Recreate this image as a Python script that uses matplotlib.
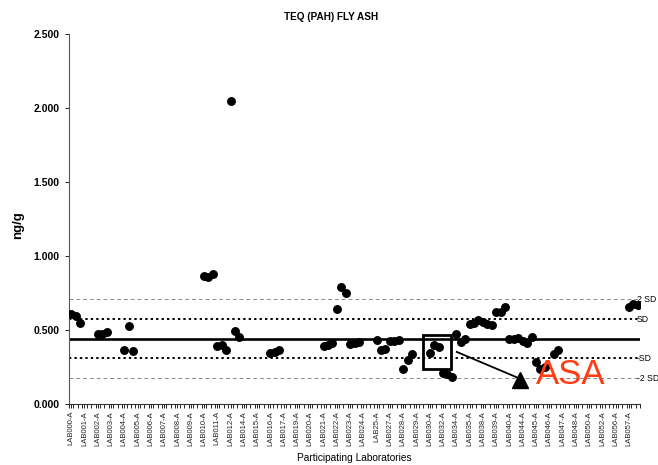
import numpy as np
import matplotlib
matplotlib.use('Agg')
import matplotlib.pyplot as plt
from matplotlib.patches import Rectangle
from matplotlib.transforms import blended_transform_factory

plt.rcParams['font.family'] = ['Liberation Sans', 'DejaVu Sans']

labs = ['LAB000-A', 'LAB001-A', 'LAB002-A', 'LAB003-A', 'LAB004-A', 'LAB005-A',
        'LAB006-A', 'LAB007-A', 'LAB008-A', 'LAB009-A', 'LAB010-A', 'LAB011-A',
        'LAB012-A', 'LAB014-A', 'LAB015-A', 'LAB016-A', 'LAB017-A', 'LAB019-A',
        'LAB020-A', 'LAB021-A', 'LAB022-A', 'LAB023-A', 'LAB024-A', 'LAB25-A',
        'LAB027-A', 'LAB028-A', 'LAB029-A', 'LAB030-A', 'LAB032-A', 'LAB034-A',
        'LAB035-A', 'LAB038-A', 'LAB039-A', 'LAB040-A', 'LAB044-A', 'LAB045-A',
        'LAB046-A', 'LAB047-A', 'LAB048-A', 'LAB050-A', 'LAB052-A', 'LAB056-A',
        'LAB057-A']

n = np.nan
# three replicate results per lab (ng/g), nan = no result
rep1 = [0.605, n, 0.470, n, 0.368, n, n, n, n, n, 0.862, 0.392, 2.047, n, n, 0.345,
        n, n, n, 0.394, 0.642, 0.408, n, 0.433, 0.428, 0.237, n, 0.343, 0.212,
        0.471, 0.539, 0.554, 0.624, 0.437, 0.426, 0.286, n, n, n, n, n, n, 0.658]
rep2 = [0.595, n, 0.476, n, 0.530, n, n, n, n, n, 0.860, 0.400, 0.492, n, n, 0.352,
        n, n, n, 0.399, 0.789, 0.414, n, 0.363, 0.428, 0.298, n, 0.397, 0.203,
        0.421, 0.550, 0.541, 0.620, 0.441, 0.410, 0.239, 0.338, n, n, n, n, n, 0.674]
rep3 = [0.550, n, 0.485, n, 0.355, n, n, n, n, n, 0.878, 0.362, 0.456, n, n, 0.365,
        n, n, n, 0.414, 0.748, 0.419, n, 0.372, 0.433, 0.340, n, 0.383, 0.185,
        0.441, 0.568, 0.534, 0.654, 0.444, 0.455, 0.252, 0.365, n, n, n, n, n, 0.672]

mean_val = 0.441
sd_val = 0.133

fig = plt.figure(figsize=(6.58, 4.65), dpi=100)
ax = fig.add_axes([69/658, 1-404/465, 571/658, 370/465])

xs, ys = [], []
for i in range(len(labs)):
    for j, r in enumerate([rep1, rep2, rep3]):
        xs.append(3*i + j)
        ys.append(r[i])
ax.plot(xs, ys, 'o', color='black', markersize=5.4, zorder=3)

ncat = 3*len(labs)
ax.set_xlim(-0.5, ncat - 0.5)
ax.set_ylim(0, 2.5)

ax.axhline(mean_val, color='black', lw=1.9, zorder=2)
ax.axhline(mean_val + sd_val, color='black', lw=1.4, ls=(0, (1.2, 1.6)), zorder=2)
ax.axhline(mean_val - sd_val, color='black', lw=1.4, ls=(0, (1.2, 1.6)), zorder=2)
ax.axhline(mean_val + 2*sd_val, color='#8c8c8c', lw=0.7, ls=(0, (4, 3)), zorder=2)
ax.axhline(mean_val - 2*sd_val, color='#8c8c8c', lw=0.7, ls=(0, (4, 3)), zorder=2)

tr = blended_transform_factory(ax.transAxes, ax.transData)
for v, t in [(mean_val + 2*sd_val, '2 SD'), (mean_val + sd_val, 'SD'),
             (mean_val - sd_val, '-SD'), (mean_val - 2*sd_val, '-2 SD')]:
    ax.text(0.994, v, t, transform=tr, ha='left', va='center', fontsize=6.2,
            clip_on=False)

ax.set_xticks([3*i for i in range(len(labs))])
ax.set_xticklabels(labs, rotation=90, fontsize=5.5, color='#222222')
ax.set_xticks(np.arange(-0.5, ncat, 1), minor=True)
ax.tick_params(axis='x', which='major', length=3, width=0.6, pad=2)
ax.tick_params(axis='x', which='minor', length=3, width=0.6)

ax.set_yticks([0, 0.5, 1.0, 1.5, 2.0, 2.5])
ax.set_yticklabels(['0.000', '0.500', '1.000', '1.500', '2.000', '2.500'],
                   fontsize=7.5, fontweight='bold')
ax.tick_params(axis='y', length=3, width=0.6, pad=4)

ax.spines['top'].set_visible(False)
ax.spines['right'].set_visible(False)
ax.spines['left'].set_color('#555555')
ax.spines['bottom'].set_color('#333333')

fig.text(331/658, 1-17/465, 'TEQ (PAH) FLY ASH', ha='center', va='center',
         fontsize=7.2, fontweight='bold')
fig.text(18/658, 1-225/465, 'ng/g', rotation=90, ha='center', va='center',
         fontsize=9.5, fontweight='bold')
fig.text(354/658, 1-458/465, 'Participating Laboratories', ha='center', va='center',
         fontsize=7.3)

# annotation: box, arrow and ASA label
ax.add_patch(Rectangle((79.4, 0.237), 6.3, 0.23, fill=False, edgecolor='black',
                       lw=2.0, zorder=4))
ax.plot([87.1, 101.0], [0.352, 0.176], color='black', lw=1.3, zorder=4)
ax.plot([101.3], [0.16], marker='^', color='black', markersize=12, zorder=4)
ax.text(105.0, 0.135, 'ASA', color='#ff3c14', fontsize=25, ha='left',
        va='baseline', zorder=5)

plt.savefig('out.png', dpi=100)
